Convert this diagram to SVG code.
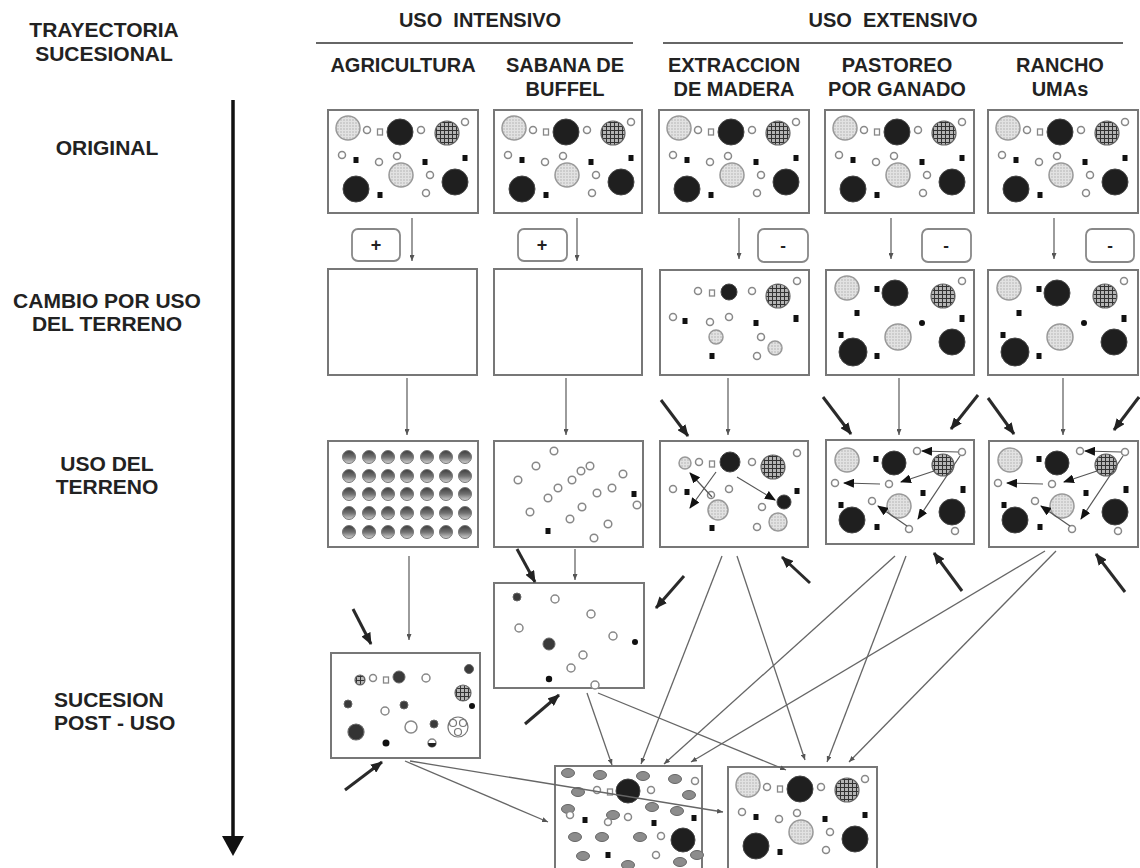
<svg xmlns="http://www.w3.org/2000/svg" xmlns:xlink="http://www.w3.org/1999/xlink" width="1140" height="868" viewBox="0 0 1140 868">
<style>
.t{font-family:"Liberation Sans",Arial,sans-serif;font-weight:bold;font-size:20px;fill:#222;text-anchor:middle}
.lt{font-size:21px}
.tl{text-anchor:start}
.box{fill:#fff;stroke:#777;stroke-width:2}
.pm{fill:#fff;stroke:#888;stroke-width:1.8}
.L{fill:url(#stip);stroke:#999;stroke-width:1.5}
.D{fill:#1f1f1f;stroke:#444;stroke-width:1}
.M{fill:#3a3a3a;stroke:#666;stroke-width:1}
.H{fill:url(#grid);stroke:#666;stroke-width:1.2}
.o{fill:#fff;stroke:#888;stroke-width:1.5}
.s{fill:#111}
.os{fill:#fff;stroke:#888;stroke-width:1.3}
.g{fill:url(#bowl);stroke:#777;stroke-width:1}
.e{fill:#8c8c8c;stroke:#666;stroke-width:1}
.thin{stroke:#666;stroke-width:1.3;fill:none;marker-end:url(#sh)}
.thick{stroke:#2a2a2a;stroke-width:3;fill:none;marker-end:url(#bh)}
.ia{stroke:#555;stroke-width:1.2;fill:none;marker-end:url(#tri)}
.ul{stroke:#666;stroke-width:2}
</style>
<defs>
<pattern id="grid" width="4" height="4" patternUnits="userSpaceOnUse"><rect width="4" height="4" fill="#b5b5b5"/><path d="M0 0.5H4M0.5 0V4" stroke="#333" stroke-width="1"/></pattern>
<pattern id="stip" width="3" height="3" patternUnits="userSpaceOnUse"><rect width="3" height="3" fill="#e2e2e2"/><circle cx="1" cy="1" r="0.7" fill="#aaa"/></pattern>
<linearGradient id="bowl" x1="0" y1="0" x2="0" y2="1"><stop offset="0" stop-color="#3c3c3c"/><stop offset="0.5" stop-color="#707070"/><stop offset="1" stop-color="#d4d4d4"/></linearGradient>
<marker id="sh" markerUnits="userSpaceOnUse" markerWidth="6" markerHeight="5" refX="6" refY="2.5" orient="auto"><path d="M0,0 L6,2.5 L0,5 z" fill="#555"/></marker>
<marker id="bh" markerUnits="userSpaceOnUse" markerWidth="12" markerHeight="10" refX="11" refY="5" orient="auto"><path d="M0,0 L12,5 L0,10 z" fill="#222"/></marker>
<marker id="tri" markerUnits="userSpaceOnUse" markerWidth="11" markerHeight="9" refX="10" refY="4.5" orient="auto"><path d="M0,0 L11,4.5 L0,9 z" fill="#111"/></marker>
<g id="p-orig">
<circle class="L" cx="20" cy="18" r="12"/>
<circle class="o" cx="39" cy="20" r="3.5"/>
<rect class="os" x="49.5" y="19" width="5" height="6"/>
<circle class="D" cx="72" cy="22" r="13"/>
<circle class="o" cx="93" cy="20" r="3.5"/>
<circle class="H" cx="119" cy="23" r="12"/>
<circle class="o" cx="137" cy="12" r="3.5"/>
<circle class="o" cx="14" cy="45" r="3.5"/>
<rect class="s" x="25.5" y="47" width="5" height="6"/>
<circle class="o" cx="51" cy="52" r="3.5"/>
<circle class="o" cx="69" cy="46" r="3.5"/>
<circle class="L" cx="73" cy="65" r="12"/>
<rect class="s" x="94.5" y="49" width="5" height="6"/>
<circle class="o" cx="102" cy="65" r="3.5"/>
<rect class="s" x="134.5" y="45" width="5" height="6"/>
<circle class="D" cx="127" cy="72" r="13"/>
<circle class="D" cx="28" cy="79" r="13"/>
<rect class="s" x="49.5" y="82" width="5" height="6"/>
<circle class="o" cx="98" cy="83" r="3.5"/>
</g>
<g id="p-chg">
<circle class="L" cx="21" cy="18" r="12"/>
<rect class="s" x="48.5" y="16" width="5" height="6"/>
<circle class="D" cx="69" cy="23" r="13"/>
<circle class="H" cx="117" cy="26" r="12"/>
<circle class="o" cx="136" cy="11" r="3.5"/>
<rect class="s" x="28.5" y="40" width="5" height="6"/>
<circle class="s" cx="96" cy="53" r="3"/>
<rect class="s" x="133.5" y="45" width="5" height="7"/>
<rect class="s" x="12.5" y="62" width="5" height="6"/>
<circle class="L" cx="72" cy="67" r="13"/>
<circle class="D" cx="126" cy="72" r="13"/>
<circle class="D" cx="27" cy="82" r="14"/>
<rect class="s" x="48.5" y="83" width="5" height="6"/>
</g>
<g id="p-use">
<circle class="L" cx="21" cy="19" r="12"/>
<rect class="s" x="47.5" y="15" width="5" height="6"/>
<circle class="D" cx="68" cy="22" r="12"/>
<circle class="o" cx="91" cy="10" r="3.5"/>
<circle class="o" cx="136" cy="11" r="3.5"/>
<circle class="H" cx="117" cy="24" r="11"/>
<circle class="o" cx="9" cy="42" r="3.5"/>
<circle class="o" cx="63" cy="43" r="3.5"/>
<rect class="s" x="94.5" y="49" width="5" height="6"/>
<rect class="s" x="134.5" y="45" width="5" height="7"/>
<rect class="s" x="12.5" y="61" width="5" height="6"/>
<circle class="o" cx="46" cy="60" r="3.5"/>
<circle class="L" cx="73" cy="65" r="12"/>
<circle class="D" cx="126" cy="71" r="13"/>
<circle class="D" cx="26" cy="79" r="13"/>
<rect class="s" x="48.5" y="83" width="5" height="6"/>
<circle class="o" cx="83" cy="88" r="3.5"/>
<circle class="o" cx="129" cy="90" r="3.5"/>
<line class="ia" x1="132" y1="11" x2="96" y2="10"/>
<line class="ia" x1="108" y1="30" x2="75" y2="41"/>
<line class="ia" x1="54" y1="43" x2="18" y2="42"/>
<line class="ia" x1="81" y1="85" x2="52" y2="65"/>
<line class="ia" x1="134" y1="15" x2="92" y2="78"/>
</g>
</defs>
<rect width="1140" height="868" fill="#fff"/>

<g id="labels">
<text class="t lt" x="104" y="37">TRAYECTORIA</text>
<text class="t lt" x="104" y="61">SUCESIONAL</text>
<text class="t lt" x="107" y="155">ORIGINAL</text>
<text class="t lt" x="107" y="308">CAMBIO POR USO</text>
<text class="t lt" x="107" y="331">DEL TERRENO</text>
<text class="t lt" x="107" y="471">USO DEL</text>
<text class="t lt" x="107" y="494">TERRENO</text>
<text class="t lt tl" x="54" y="707">SUCESION</text>
<text class="t lt tl" x="54" y="730">POST - USO</text>
<text class="t" x="480" y="27">USO&#160; INTENSIVO</text>
<line class="ul" x1="316" y1="43" x2="633" y2="43"/>
<text class="t" x="893" y="27">USO&#160; EXTENSIVO</text>
<line class="ul" x1="663" y1="43" x2="1123" y2="43"/>
<text class="t" x="403" y="72">AGRICULTURA</text>
<text class="t" x="565" y="72">SABANA DE</text>
<text class="t" x="565" y="96">BUFFEL</text>
<text class="t" x="734" y="72">EXTRACCION</text>
<text class="t" x="734" y="96">DE MADERA</text>
<text class="t" x="897" y="72">PASTOREO</text>
<text class="t" x="897" y="96">POR GANADO</text>
<text class="t" x="1060" y="72">RANCHO</text>
<text class="t" x="1060" y="96">UMAs</text>
</g>

<g id="time-axis">
<line x1="233" y1="100" x2="233" y2="840" stroke="#111" stroke-width="3.5"/>
<polygon points="222,836 244,836 233,856" fill="#111"/>
</g>

<g id="orig-agricultura"><rect class="box" x="328" y="110" width="150" height="103"/><use href="#p-orig" x="328" y="110"/></g>
<g id="orig-sabana"><rect class="box" x="494" y="110" width="148" height="103"/><use href="#p-orig" x="494" y="110"/></g>
<g id="orig-extraccion"><rect class="box" x="659" y="110" width="150" height="103"/><use href="#p-orig" x="659" y="110"/></g>
<g id="orig-pastoreo"><rect class="box" x="825" y="110" width="149" height="103"/><use href="#p-orig" x="825" y="110"/></g>
<g id="orig-rancho"><rect class="box" x="988" y="110" width="150" height="103"/><use href="#p-orig" x="988" y="110"/></g>

<g id="sign-agricultura"><rect class="pm" x="352" y="229" width="48" height="32" rx="6"/><text class="t" x="376" y="251" style="font-size:18px">+</text></g>
<g id="sign-sabana"><rect class="pm" x="518" y="229" width="49" height="32" rx="6"/><text class="t" x="542" y="251" style="font-size:18px">+</text></g>
<g id="sign-extraccion"><rect class="pm" x="758" y="229" width="50" height="33" rx="6"/><text class="t" x="783" y="251" style="font-size:17px">-</text></g>
<g id="sign-pastoreo"><rect class="pm" x="922" y="229" width="49" height="33" rx="6"/><text class="t" x="946" y="251" style="font-size:17px">-</text></g>
<g id="sign-rancho"><rect class="pm" x="1086" y="229" width="48" height="33" rx="6"/><text class="t" x="1110" y="251" style="font-size:17px">-</text></g>

<g id="chg-agricultura"><rect class="box" x="328" y="269" width="149" height="106"/></g>
<g id="chg-sabana"><rect class="box" x="494" y="269" width="148" height="106"/></g>
<g id="chg-extraccion"><rect class="box" x="660" y="270" width="149" height="105"/>
<circle class="o" cx="698" cy="291" r="3.5"/>
<rect class="os" x="709.5" y="290" width="5" height="6"/>
<circle class="D" cx="729" cy="292" r="8"/>
<circle class="o" cx="752" cy="291" r="3.5"/>
<circle class="H" cx="778" cy="296" r="12"/>
<circle class="o" cx="797" cy="281" r="3.5"/>
<circle class="o" cx="673" cy="317" r="3.5"/>
<rect class="s" x="682.5" y="318" width="5" height="6"/>
<circle class="o" cx="710" cy="322" r="3.5"/>
<circle class="o" cx="729" cy="317" r="3.5"/>
<rect class="s" x="753.5" y="320" width="5" height="6"/>
<rect class="s" x="793.5" y="315" width="5" height="7"/>
<circle class="L" cx="716" cy="337" r="7"/>
<circle class="o" cx="761" cy="337" r="3.5"/>
<circle class="L" cx="775" cy="348" r="7"/>
<rect class="s" x="709.5" y="353" width="5" height="6"/>
<circle class="o" cx="757" cy="356" r="3.5"/>
</g>
<g id="chg-pastoreo"><rect class="box" x="826" y="270" width="148" height="105"/><use href="#p-chg" x="826" y="270"/></g>
<g id="chg-rancho"><rect class="box" x="988" y="270" width="150" height="105"/><use href="#p-chg" x="988" y="270"/></g>

<g id="use-agricultura"><rect class="box" x="328" y="441" width="150" height="106"/>
<g>
<circle class="g" cx="349" cy="457" r="6.5"/><circle class="g" cx="369" cy="457" r="6.5"/><circle class="g" cx="388" cy="457" r="6.5"/><circle class="g" cx="407" cy="457" r="6.5"/><circle class="g" cx="427" cy="457" r="6.5"/><circle class="g" cx="446" cy="457" r="6.5"/><circle class="g" cx="465" cy="457" r="6.5"/>
<circle class="g" cx="349" cy="476" r="6.5"/><circle class="g" cx="369" cy="476" r="6.5"/><circle class="g" cx="388" cy="476" r="6.5"/><circle class="g" cx="407" cy="476" r="6.5"/><circle class="g" cx="427" cy="476" r="6.5"/><circle class="g" cx="446" cy="476" r="6.5"/><circle class="g" cx="465" cy="476" r="6.5"/>
<circle class="g" cx="349" cy="494" r="6.5"/><circle class="g" cx="369" cy="494" r="6.5"/><circle class="g" cx="388" cy="494" r="6.5"/><circle class="g" cx="407" cy="494" r="6.5"/><circle class="g" cx="427" cy="494" r="6.5"/><circle class="g" cx="446" cy="494" r="6.5"/><circle class="g" cx="465" cy="494" r="6.5"/>
<circle class="g" cx="349" cy="513" r="6.5"/><circle class="g" cx="369" cy="513" r="6.5"/><circle class="g" cx="388" cy="513" r="6.5"/><circle class="g" cx="407" cy="513" r="6.5"/><circle class="g" cx="427" cy="513" r="6.5"/><circle class="g" cx="446" cy="513" r="6.5"/><circle class="g" cx="465" cy="513" r="6.5"/>
<circle class="g" cx="349" cy="532" r="6.5"/><circle class="g" cx="369" cy="532" r="6.5"/><circle class="g" cx="388" cy="532" r="6.5"/><circle class="g" cx="407" cy="532" r="6.5"/><circle class="g" cx="427" cy="532" r="6.5"/><circle class="g" cx="446" cy="532" r="6.5"/><circle class="g" cx="465" cy="532" r="6.5"/>
</g></g>
<g id="use-sabana"><rect class="box" x="494" y="441" width="149" height="106"/>
<circle class="o" cx="554" cy="451" r="3.8"/><circle class="o" cx="536" cy="466" r="3.8"/><circle class="o" cx="518" cy="480" r="3.8"/><circle class="o" cx="581" cy="471" r="3.8"/><circle class="o" cx="590" cy="466" r="3.8"/><circle class="o" cx="572" cy="480" r="3.8"/><circle class="o" cx="558" cy="488" r="3.8"/><circle class="o" cx="548" cy="498" r="3.8"/><circle class="o" cx="623" cy="474" r="3.8"/><circle class="o" cx="612" cy="488" r="3.8"/><circle class="o" cx="597" cy="493" r="3.8"/><circle class="o" cx="582" cy="507" r="3.8"/><circle class="o" cx="530" cy="512" r="3.8"/><circle class="o" cx="570" cy="519" r="3.8"/><circle class="o" cx="608" cy="524" r="3.8"/><circle class="o" cx="594" cy="538" r="3.8"/><circle class="o" cx="637" cy="505" r="3.8"/>
<rect class="s" x="631.5" y="491" width="5" height="6"/><rect class="s" x="545.5" y="528" width="5" height="6"/>
</g>
<g id="use-extraccion"><rect class="box" x="660" y="441" width="148" height="106"/>
<circle class="L" cx="685" cy="463" r="6"/>
<circle class="o" cx="699" cy="462" r="3.5"/>
<rect class="os" x="709.5" y="461" width="5" height="6"/>
<circle class="D" cx="730" cy="462" r="10"/>
<circle class="o" cx="752" cy="462" r="3.5"/>
<circle class="H" cx="773" cy="467" r="12"/>
<circle class="o" cx="797" cy="453" r="3.5"/>
<circle class="o" cx="673" cy="489" r="3.5"/>
<rect class="s" x="684.5" y="489" width="5" height="6"/>
<circle class="o" cx="711" cy="495" r="3.5"/>
<circle class="o" cx="729" cy="489" r="3.5"/>
<circle class="L" cx="718" cy="510" r="10"/>
<rect class="s" x="709.5" y="525" width="5" height="6"/>
<circle class="D" cx="784" cy="502" r="7"/>
<rect class="s" x="794.5" y="488" width="5" height="6"/>
<circle class="o" cx="762" cy="507" r="3.5"/>
<circle class="L" cx="778" cy="522" r="9"/>
<circle class="o" cx="757" cy="527" r="3.5"/>
<line class="ia" x1="716" y1="472" x2="690" y2="508"/>
<line class="ia" x1="712" y1="497" x2="690" y2="473"/>
<line class="ia" x1="737" y1="477" x2="775" y2="500"/>
</g>
<g id="use-pastoreo"><rect class="box" x="826" y="440" width="148" height="104"/><use href="#p-use" x="826" y="441"/></g>
<g id="use-rancho"><rect class="box" x="989" y="441" width="149" height="106"/><use href="#p-use" x="989" y="441"/></g>

<g id="post-sabana"><rect class="box" x="494" y="583" width="150" height="105"/>
<circle class="M" cx="517" cy="597" r="4"/>
<circle class="o" cx="555" cy="599" r="4"/>
<circle class="o" cx="591" cy="614" r="4"/>
<circle class="o" cx="519" cy="628" r="4"/>
<circle class="o" cx="613" cy="636" r="4"/>
<circle class="s" cx="635" cy="642" r="3"/>
<circle class="M" cx="549" cy="644" r="6"/>
<circle class="o" cx="583" cy="655" r="4"/>
<circle class="o" cx="571" cy="668" r="4"/>
<circle class="s" cx="549" cy="679" r="3.2"/>
<circle class="o" cx="595" cy="685" r="4"/>
</g>
<g id="post-agricultura"><rect class="box" x="331" y="653" width="149" height="105"/>
<circle class="H" cx="360" cy="680" r="5"/>
<circle class="o" cx="373" cy="678" r="3.5"/>
<rect class="os" x="383.5" y="677" width="5" height="6"/>
<circle class="M" cx="399" cy="677" r="6"/>
<circle class="o" cx="426" cy="678" r="4"/>
<circle class="M" cx="469" cy="669" r="4.5"/>
<circle class="H" cx="463" cy="693" r="8"/>
<circle class="M" cx="348" cy="704" r="4"/>
<circle class="o" cx="385" cy="711" r="4"/>
<circle class="M" cx="404" cy="705" r="4"/>
<circle class="s" cx="472" cy="706" r="3"/>
<circle class="H" cx="356" cy="732" r="8" style="fill:#333"/>
<circle class="o" cx="411" cy="727" r="6"/>
<circle class="M" cx="434" cy="724" r="4"/>
<g fill="none" stroke="#777" stroke-width="1.2"><circle cx="458" cy="727" r="10"/><circle cx="453" cy="723" r="3.5"/><circle cx="463" cy="723" r="3.5"/><circle cx="458" cy="732" r="3.5"/></g>
<circle class="s" cx="386" cy="743" r="3.5"/>
<circle class="o" cx="432" cy="743" r="4"/><path d="M428,743 A4,4 0 0 0 436,743 Z" fill="#222"/>
</g>

<g id="outcome-mixed"><rect class="box" x="555" y="766" width="147" height="110"/>
<ellipse class="e" cx="568" cy="773" rx="6.5" ry="4.5"/><ellipse class="e" cx="600" cy="775" rx="6.5" ry="4.5"/><ellipse class="e" cx="643" cy="776" rx="6.5" ry="4.5"/><ellipse class="e" cx="675" cy="779" rx="6.5" ry="4.5"/><ellipse class="e" cx="578" cy="792" rx="6.5" ry="4.5"/><ellipse class="e" cx="689" cy="795" rx="6.5" ry="4.5"/><ellipse class="e" cx="568" cy="809" rx="6.5" ry="4.5"/><ellipse class="e" cx="652" cy="807" rx="6.5" ry="4.5"/><ellipse class="e" cx="677" cy="811" rx="6.5" ry="4.5"/><ellipse class="e" cx="613" cy="815" rx="6.5" ry="4.5"/><ellipse class="e" cx="575" cy="837" rx="6.5" ry="4.5"/><ellipse class="e" cx="602" cy="837" rx="6.5" ry="4.5"/><ellipse class="e" cx="640" cy="837" rx="6.5" ry="4.5"/><ellipse class="e" cx="583" cy="856" rx="6.5" ry="4.5"/><ellipse class="e" cx="628" cy="865" rx="6.5" ry="4.5"/><ellipse class="e" cx="680" cy="862" rx="6.5" ry="4.5"/><ellipse class="e" cx="697" cy="855" rx="6.5" ry="4.5"/>
<circle class="D" cx="628" cy="791" r="12"/>
<circle class="D" cx="683" cy="840" r="12"/>
<circle class="o" cx="597" cy="790" r="3.5"/><circle class="o" cx="651" cy="790" r="3.5"/><circle class="o" cx="695" cy="781" r="3.5"/><circle class="o" cx="628" cy="817" r="3.5"/><circle class="o" cx="608" cy="822" r="3.5"/><circle class="o" cx="661" cy="836" r="3.5"/><circle class="o" cx="656" cy="855" r="3.5"/><circle class="o" cx="570" cy="815" r="3.5"/>
<rect class="os" x="607.5" y="789" width="5" height="6"/>
<rect class="s" x="582.5" y="817" width="5" height="6"/><rect class="s" x="651.5" y="820" width="5" height="6"/><rect class="s" x="691.5" y="815" width="5" height="6"/><rect class="s" x="605.5" y="852" width="5" height="6"/>
</g>
<g id="outcome-original"><rect class="box" x="728" y="767" width="149" height="110"/><use href="#p-orig" x="728" y="767"/></g>

<g id="connectors">
<line class="thin" x1="412" y1="218" x2="412" y2="261"/>
<line class="thin" x1="577" y1="218" x2="577" y2="261"/>
<line class="thin" x1="739" y1="218" x2="739" y2="259"/>
<line class="thin" x1="891" y1="218" x2="891" y2="259"/>
<line class="thin" x1="1054" y1="218" x2="1054" y2="259"/>
<line class="thin" x1="407" y1="378" x2="407" y2="435"/>
<line class="thin" x1="566" y1="378" x2="566" y2="435"/>
<line class="thin" x1="728" y1="378" x2="728" y2="435"/>
<line class="thin" x1="899" y1="378" x2="899" y2="435"/>
<line class="thin" x1="1063" y1="378" x2="1063" y2="435"/>
<line class="thin" x1="409" y1="556" x2="409" y2="640"/>
<line class="thin" x1="575" y1="549" x2="575" y2="580"/>
<line class="thin" x1="722" y1="556" x2="641" y2="764"/>
<line class="thin" x1="737" y1="556" x2="805" y2="760"/>
<line class="thin" x1="895" y1="556" x2="664" y2="764"/>
<line class="thin" x1="906" y1="556" x2="827" y2="762"/>
<line class="thin" x1="1045" y1="551" x2="691" y2="762"/>
<line class="thin" x1="1056" y1="551" x2="849" y2="762"/>
<line class="thin" x1="587" y1="693" x2="612" y2="765"/>
<line class="thin" x1="598" y1="693" x2="786" y2="770"/>
<line class="thin" x1="405" y1="761" x2="548" y2="822"/>
<line class="thin" x1="410" y1="761" x2="723" y2="812"/>
<line class="thick" x1="661" y1="400" x2="688" y2="436"/>
<line class="thick" x1="823" y1="397" x2="851" y2="434"/>
<line class="thick" x1="978" y1="395" x2="951" y2="429"/>
<line class="thick" x1="988" y1="398" x2="1014" y2="434"/>
<line class="thick" x1="1139" y1="397" x2="1114" y2="430"/>
<line class="thick" x1="517" y1="549" x2="535" y2="582"/>
<line class="thick" x1="353" y1="609" x2="371" y2="644"/>
<line class="thick" x1="684" y1="576" x2="656" y2="608"/>
<line class="thick" x1="525" y1="724" x2="559" y2="695"/>
<line class="thick" x1="345" y1="790" x2="382" y2="762"/>
<line class="thick" x1="810" y1="583" x2="782" y2="557"/>
<line class="thick" x1="962" y1="591" x2="934" y2="553"/>
<line class="thick" x1="1125" y1="592" x2="1096" y2="554"/>
</g>
</svg>
